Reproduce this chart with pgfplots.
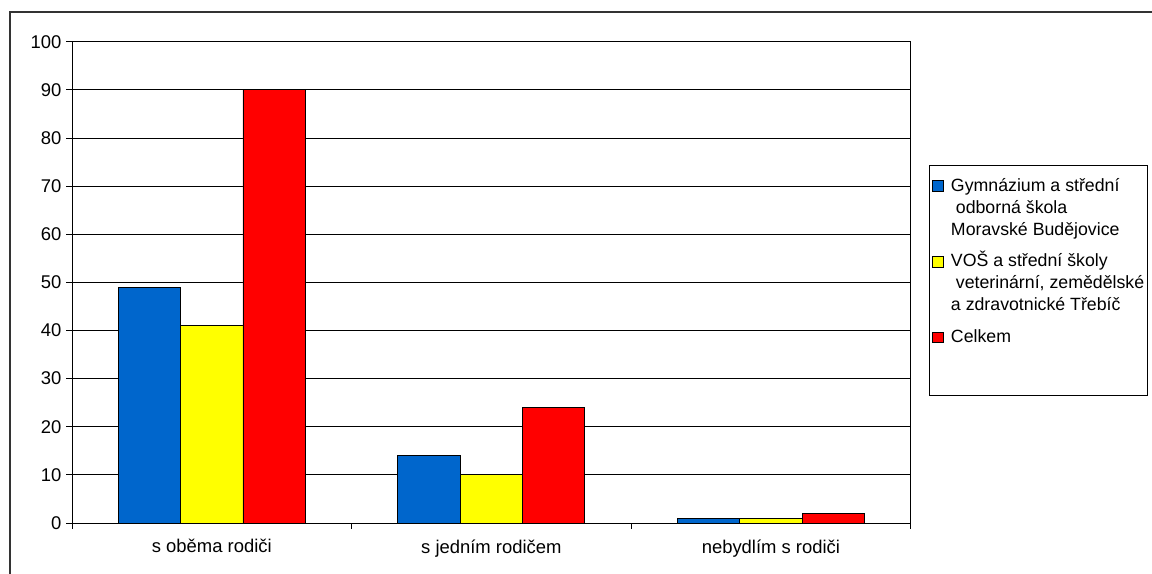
\documentclass[border=0pt]{standalone}
\usepackage{pgfplots}
\pgfplotsset{compat=1.18}
\usepackage{fontspec}
\setmainfont{Liberation Sans}
\definecolor{cblue}{HTML}{0066CC}
\definecolor{cyellow}{HTML}{FFFF00}
\definecolor{cred}{HTML}{FF0000}
\tikzset{
  le/.style={inner sep=0pt, text height=15.4bp, text depth=6.6bp},
  lf/.style={inner sep=0pt, text height=25.1bp, text depth=6.6bp},
  ll/.style={inner sep=0pt, text height=25.1bp, text depth=42.4bp},
}
\begin{document}
\begin{tikzpicture}
\path[use as bounding box] (0bp,0bp) rectangle (1152bp,574bp);
\draw[line width=1.2bp, black!80] (10bp,-5bp) -- (10bp,562bp) -- (1160bp,562bp);
\begin{axis}[
  at={(72bp,51bp)}, anchor=south west,
  scale only axis, width=838.7bp, height=481.3bp,
  ybar=0pt, bar width=0.223,
  xmin=-0.5, xmax=2.5, ymin=0, ymax=100,
  ytick={0,10,...,100},
  xtick={0,1,2},
  xticklabels={s oběma rodiči, s jedním rodičem, nebydlím s rodiči},
  minor xtick={-0.5,0.5,1.5,2.5},
  major x tick style={draw=none},
  minor tick length=6bp, major tick length=6bp,
  tick align=outside, tick pos=left,
  ymajorgrids, grid style={black, line width=0.9bp},
  axis line style={black, line width=0.9bp},
  every tick/.style={black, line width=0.9bp},
  tick label style={font=\fontsize{18.5}{22}\selectfont},
  /pgf/number format/assume math mode=true,
  xticklabel style={yshift=-7bp},
  yticklabel style={xshift=-1bp},
  legend style={at={(1.0215,0.7443)}, anchor=north west,
    draw=black, line width=0.9bp,
    font=\fontsize{17.8}{22}\selectfont,
    cells={anchor=base west},
    nodes={inner sep=0pt, text height=15.4bp, text depth=6.6bp},
    column sep=7bp, row sep=0pt,
    inner xsep=3bp, inner ysep=10.6bp},
  legend image code/.code={\draw[#1, draw=black, line width=0.8bp] (0bp,0bp) rectangle (11bp,10.5bp);},
]
\addplot[fill=cblue, draw=black, line width=0.9bp] coordinates {(0,49) (1,14) (2,1)};
\addlegendentry[le]{Gymnázium a střední}
\addlegendimage{empty legend}\addlegendentry[le]{\ odborná škola}
\addlegendimage{empty legend}\addlegendentry[le]{Moravské Budějovice}
\addplot[fill=cyellow, draw=black, line width=0.9bp] coordinates {(0,41) (1,10) (2,1)};
\addlegendentry[lf]{VOŠ a střední školy}
\addlegendimage{empty legend}\addlegendentry[le]{\ veterinární, zemědělské}
\addlegendimage{empty legend}\addlegendentry[le]{a zdravotnické Třebíč}
\addplot[fill=cred, draw=black, line width=0.9bp] coordinates {(0,90) (1,24) (2,2)};
\addlegendentry[ll]{Celkem}
\end{axis}
\end{tikzpicture}
\end{document}
